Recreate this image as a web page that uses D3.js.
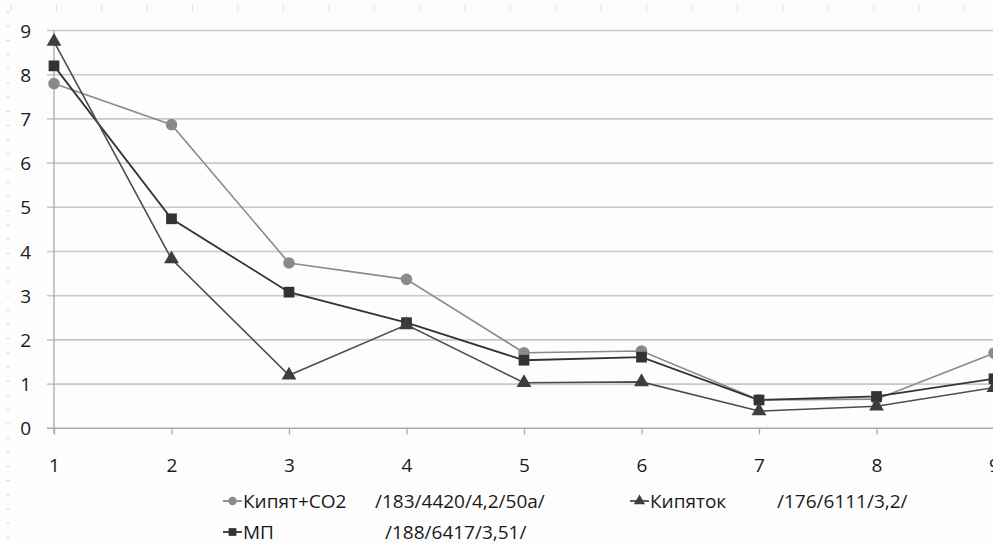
<!DOCTYPE html>
<html>
<head>
<meta charset="utf-8">
<script src="https://cdn.jsdelivr.net/npm/d3@7"></script>
<style>
  html, body { margin: 0; padding: 0; background: #fdfdfd; }
  svg { display: block; }
  text { font-family: "Open Sans", "Noto Sans", sans-serif; fill: #1a1a1a; }
</style>
</head>
<body>
<svg id="chart" width="993" height="546"></svg>
<script>
const categories = [1, 2, 3, 4, 5, 6, 7, 8, 9];
const yTicks = [0, 1, 2, 3, 4, 5, 6, 7, 8, 9];
const kipyatCO2 = [7.8, 6.87, 3.74, 3.37, 1.71, 1.75, 0.64, 0.66, 1.7];
const kipyatok = [8.75, 3.83, 1.2, 2.34, 1.03, 1.05, 0.39, 0.5, 0.92];
const mp = [8.2, 4.74, 3.08, 2.39, 1.54, 1.61, 0.64, 0.72, 1.12];
const seriesNames = ["Кипят+CO2", "Кипяток", "МП"];
const seriesNotes = ["/183/4420/4,2/50a/", "/176/6111/3,2/", "/188/6417/3,51/"];

const W = 993, H = 546;
const svg = d3.select("#chart");

const x = d3.scaleLinear().domain([1, 9]).range([54, 994]);
const y = d3.scaleLinear().domain([0, 9]).range([428.3, 30.5]);

// faint ruler marks along the top and left edges
const ruler = svg.append("g").attr("stroke", "#dcdcdc").attr("stroke-width", 1);
d3.range(11, W, 45.4).forEach(px => {
  ruler.append("line").attr("x1", px).attr("x2", px).attr("y1", 5).attr("y2", 11);
});
d3.range(12, H, 14.2).forEach(py => {
  ruler.append("line").attr("x1", 6).attr("x2", 10).attr("y1", py).attr("y2", py);
});

// gridlines
const grid = svg.append("g");
grid.selectAll("line").data(yTicks.filter(d => d > 0)).join("line")
  .attr("x1", 47).attr("x2", W)
  .attr("y1", d => y(d)).attr("y2", d => y(d))
  .attr("stroke", "#c9c9c9").attr("stroke-width", 1.6);

// x axis (at 0)
const xAxis = d3.axisBottom(x).tickValues(categories).tickSize(6).tickFormat(d3.format("d"));
const gx = svg.append("g").attr("transform", `translate(0,${y(0)})`).call(xAxis);
gx.select(".domain").attr("d", `M47,0H${W}`).attr("stroke", "#a9a9a9").attr("stroke-width", 1.6);
gx.selectAll(".tick line").attr("stroke", "#a9a9a9").attr("stroke-width", 1.3);
gx.selectAll(".tick text").attr("y", 37).attr("dy", "0.35em")
  .style("font-size", "19px").style("font-family", "'Open Sans', sans-serif").attr("fill", "#1a1a1a");

// y axis
const yAxis = d3.axisLeft(y).tickValues(yTicks).tickSize(0).tickFormat(d3.format("d"));
const gy = svg.append("g").attr("transform", `translate(${x(1)},0)`).call(yAxis);
gy.select(".domain").attr("d", `M0,${y(9)}V${y(0) + 6}`).attr("stroke", "#a9a9a9").attr("stroke-width", 1.3);
gy.selectAll(".tick text").attr("x", -23).attr("dy", "0.35em")
  .style("font-size", "19px").style("font-family", "'Open Sans', sans-serif").attr("fill", "#1a1a1a");

const line = d3.line().x((d, i) => x(categories[i])).y(d => y(d));

const symCircle = d3.symbol().type(d3.symbolCircle).size(105);
const symSquare = d3.symbol().type(d3.symbolSquare).size(115);
const symTri = d3.symbol().type(d3.symbolTriangle).size(95);

const series = [
  { data: kipyatCO2, stroke: "#8a8a8a", fill: "#8a8a8a", width: 1.6, sym: symCircle },
  { data: mp, stroke: "#333333", fill: "#333333", width: 1.8, sym: symSquare },
  { data: kipyatok, stroke: "#4d4d4d", fill: "#3d3d3d", width: 1.6, sym: symTri },
];

series.forEach(s => {
  svg.append("path").datum(s.data).attr("d", line)
    .attr("fill", "none").attr("stroke", s.stroke).attr("stroke-width", s.width);
});
series.forEach(s => {
  svg.append("g").selectAll("path").data(s.data).join("path")
    .attr("d", s.sym)
    .attr("transform", (d, i) => `translate(${x(categories[i])},${y(d)})`)
    .attr("fill", s.fill);
});

// legend
const legend = svg.append("g").style("font-size", "19px");
const legendItems = [
  { name: seriesNames[0], note: seriesNotes[0], lx: 223, nx: 375, ly: 501, s: series[0], size: 55 },
  { name: seriesNames[1], note: seriesNotes[1], lx: 630, nx: 777, ly: 501, s: series[2], size: 55 },
  { name: seriesNames[2], note: seriesNotes[2], lx: 223, nx: 385, ly: 532, s: series[1], size: 60 },
];
legendItems.forEach(it => {
  const g = legend.append("g");
  g.append("line").attr("x1", it.lx).attr("x2", it.lx + 19).attr("y1", it.ly).attr("y2", it.ly)
    .attr("stroke", it.s.stroke).attr("stroke-width", 1.8);
  g.append("path").attr("d", d3.symbol().type(it.s.sym.type()).size(it.size)())
    .attr("transform", `translate(${it.lx + 9.5},${it.ly})`).attr("fill", it.s.fill);
  g.append("text").attr("x", it.lx + 20).attr("y", it.ly).attr("dy", "0.35em").text(it.name);
  g.append("text").attr("x", it.nx).attr("y", it.ly).attr("dy", "0.35em").text(it.note);
});
</script>
</body>
</html>
